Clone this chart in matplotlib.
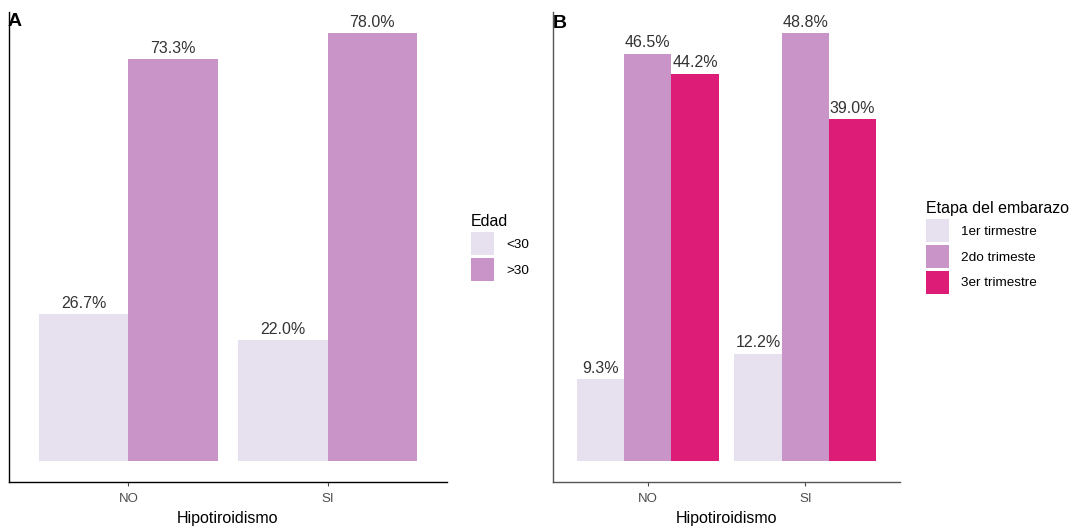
import matplotlib
matplotlib.use("Agg")
import matplotlib.pyplot as plt
from matplotlib.patches import Patch
import numpy as np

plt.rcParams['font.family'] = ['Liberation Sans', 'DejaVu Sans']

categories = ["NO", "SI"]

# Panel A
edad_groups = ["<30", ">30"]
edad_values = {"<30": [26.7, 22.0], ">30": [73.3, 78.0]}

# Panel B
etapa_groups = ["1er tirmestre", "2do trimeste", "3er trimestre"]
etapa_values = {"1er tirmestre": [9.3, 12.2],
                "2do trimeste": [46.5, 48.8],
                "3er trimestre": [44.2, 39.0]}

colors3 = ["#E7E1EF", "#C994C7", "#DD1C77"]

W, H = 1076, 527
fig = plt.figure(figsize=(W / 100, H / 100), dpi=100)


def fx(px):
    return px / W


def fy(py):
    return 1 - py / H


def panel(rect, groups, values, colors, axcolor, title, title_xy):
    ax = fig.add_axes(rect)
    x = np.arange(len(categories))
    n = len(groups)
    bw = 0.9 / n
    ymax = max(max(v) for v in values.values())
    for i, g in enumerate(groups):
        pos = x - 0.45 + bw * (i + 0.5)
        ax.bar(pos, values[g], width=bw, color=colors[i], edgecolor="none")
        for xp, v in zip(pos, values[g]):
            ax.annotate(f"{v:.1f}%", (xp, v), xytext=(0, 2.5),
                        textcoords="offset points", ha="center", va="bottom",
                        fontsize=11.5, color="#333333")
    ax.set_xlim(-0.6, 1.6)
    ax.set_ylim(-0.05 * ymax, 1.05 * ymax)
    ax.set_xticks(x)
    ax.set_xticklabels(categories, fontsize=9.5, color="#4D4D4D")
    ax.tick_params(axis="x", length=3, color="#4D4D4D", width=0.8, pad=5)
    ax.set_yticks([])
    for s in ["top", "right"]:
        ax.spines[s].set_visible(False)
    for s in ["left", "bottom"]:
        ax.spines[s].set_color(axcolor)
        ax.spines[s].set_linewidth(1.0)
    ax.set_xlabel("Hipotiroidismo", fontsize=11.5, color="black", labelpad=4)
    ax.set_facecolor("white")
    fig.text(fx(title_xy[0]), fy(title_xy[1]), title, fontsize=14,
             fontweight="bold", ha="left", va="top")
    handles = [Patch(facecolor=colors[i], edgecolor="none") for i in range(n)]
    return ax, handles


leg_kw = dict(loc="upper left", frameon=False, fontsize=9.7,
              title_fontsize=11.5, borderpad=0, handlelength=1.7,
              handleheight=2.245, labelspacing=0.22, handletextpad=0.9,
              alignment="left", borderaxespad=0)

axA, hA = panel([fx(9), fy(482), fx(447) - fx(9), fy(12) - fy(482)],
                edad_groups, edad_values, colors3[:2], "black", "A", (8, 13))
legA = fig.legend(hA, edad_groups, title="Edad",
                  bbox_to_anchor=(fx(471), fy(214)), **leg_kw)

axB, hB = panel([fx(553), fy(482), fx(900) - fx(553), fy(12) - fy(482)],
                etapa_groups, etapa_values, colors3, "#555555", "B", (553, 15))
legB = fig.legend(hB, etapa_groups, title="Etapa del embarazo",
                  bbox_to_anchor=(fx(926), fy(201)), **leg_kw)

fig.savefig("out.png", dpi=100, facecolor="white")
